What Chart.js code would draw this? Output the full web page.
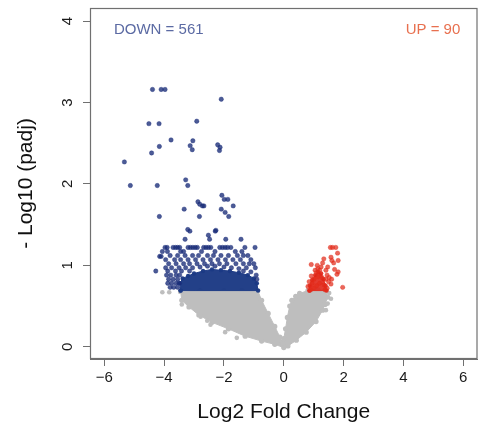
<!DOCTYPE html>
<html>
<head>
<meta charset="utf-8">
<script src="https://cdn.jsdelivr.net/npm/chart.js@4/dist/chart.umd.min.js"></script>
<style>
  body { margin:0; background:#fff; }
  #wrap { width:482px; height:426px; }
</style>
</head>
<body>
<div id="wrap"><canvas id="miVolcano" width="482" height="426"></canvas></div>
<script>

// ticks
var xTicks = [-6, -4, -2, 0, 2, 4, 6];
var yTicks = [0, 1, 2, 3, 4];

// gray cloud (not significant), outline
var grisContorno = [
  [-3.45,0.68],[-2.8,0.69],[-2.0,0.69],[-1.4,0.69],[-0.87,0.69],[-0.74,0.57],[-0.52,0.41],[-0.30,0.25],
  [-0.13,0.12],[-0.04,0.05],[0.0,0.10],[0.06,0.22],[0.12,0.36],[0.20,0.50],[0.27,0.57],[0.40,0.62],
  [0.53,0.655],[0.81,0.69],[1.14,0.70],[1.41,0.69],[1.47,0.61],[1.38,0.52],[1.30,0.45],[1.08,0.31],
  [0.75,0.18],[0.42,0.08],[0.14,0.01],[0.0,-0.01],[-0.30,0.03],[-0.74,0.07],[-1.29,0.13],[-1.85,0.22],
  [-2.40,0.30],[-2.84,0.39],[-3.17,0.49],[-3.41,0.57],[-3.45,0.68]
];
var grisSueltos = [
  [-4.06,0.67],[-3.83,0.67],[-3.41,0.52],[-2.78,0.37],[-2.56,0.32],[-2.45,0.27],[-1.96,0.18],[-1.57,0.11],
  [1.52,0.66],[1.58,0.59],[1.47,0.53],[1.41,0.45]
];

// DOWN genes
var azulNucleo = [
  [-3.45,0.69],[-3.47,0.78],[-3.38,0.84],[-3.20,0.87],[-3.00,0.90],[-2.70,0.93],[-2.40,0.95],[-2.10,0.94],
  [-1.80,0.93],[-1.50,0.91],[-1.20,0.88],[-1.00,0.84],[-0.90,0.78],[-0.86,0.69],[-3.45,0.69]
];
var azulPuntos = [
  [-4.39,3.16],[-4.10,3.16],[-3.97,3.16],[-2.09,3.04],[-2.91,2.77],[-4.51,2.74],[-4.17,2.74],[-3.77,2.54],
  [-3.04,2.53],[-3.13,2.47],[-3.06,2.42],[-4.16,2.46],[-4.42,2.38],[-2.21,2.48],[-2.13,2.45],[-2.15,2.41],
  [-5.33,2.27],[-5.13,1.98],[-4.23,1.98],[-3.28,2.05],[-3.21,1.98],[-2.07,1.86],[-1.99,1.81],[-1.87,1.81],
  [-2.87,1.78],[-2.81,1.75],[-2.67,1.73],[-2.72,1.73],[-1.69,1.73],[-3.33,1.69],[-2.09,1.69],[-1.96,1.65],
  [-2.82,1.60],[-4.16,1.60],[-1.84,1.60],[-3.21,1.44],[-3.14,1.42],[-2.29,1.42],[-2.27,1.43],[-2.52,1.37],
  [-3.30,1.32],[-2.48,1.32],[-1.94,1.32],[-1.43,1.32],
  [-3.97,1.22],[-3.90,1.22],[-3.70,1.22],[-3.62,1.22],[-3.55,1.22],[-3.48,1.22],[-3.20,1.22],[-3.12,1.22],
  [-3.04,1.22],[-2.96,1.22],[-2.89,1.22],[-2.68,1.22],[-2.60,1.22],[-2.52,1.22],[-2.44,1.22],[-2.14,1.22],
  [-2.05,1.22],[-1.96,1.22],[-1.88,1.22],[-1.77,1.22],[-1.30,1.22],[-0.96,1.22],
  [-4.06,1.17],[-3.89,1.17],[-3.45,1.17],[-3.35,1.17],[-2.75,1.17],[-2.30,1.17],[-1.62,1.17],[-1.40,1.17],
  [-4.15,1.11],[-4.10,1.11],[-3.80,1.12],[-3.55,1.12],[-3.30,1.12],[-3.05,1.12],[-2.85,1.12],[-2.55,1.12],
  [-2.35,1.12],[-2.10,1.12],[-1.85,1.12],[-1.55,1.12],[-1.35,1.12],[-1.20,1.12],
  [-3.95,1.07],[-3.65,1.07],[-3.45,1.07],[-3.20,1.07],[-2.95,1.07],[-2.70,1.07],[-2.45,1.07],[-2.20,1.07],
  [-1.95,1.07],[-1.70,1.07],[-1.45,1.07],[-1.10,1.07],
  [-3.85,1.02],[-3.60,1.02],[-3.35,1.02],[-3.15,1.02],[-2.90,1.02],[-2.65,1.02],[-2.40,1.02],[-2.15,1.02],
  [-1.90,1.02],[-1.60,1.02],[-1.35,1.02],[-1.15,1.02],[-1.00,1.02],
  [-3.95,0.97],[-3.75,0.97],[-3.50,0.97],[-3.28,0.97],[-3.05,0.97],[-2.80,0.98],[-2.55,0.99],[-2.30,0.99],
  [-2.00,0.98],[-1.75,0.97],[-1.50,0.96],[-1.25,0.97],[-0.95,0.97],
  [-4.28,0.93],[-3.88,0.93],[-3.62,0.93],[-3.42,0.93],[-3.15,0.93],[-1.35,0.93],[-1.10,0.92],
  [-3.92,0.88],[-3.78,0.88],[-3.60,0.88],[-3.48,0.88],[-0.92,0.88],
  [-3.85,0.83],[-3.70,0.83],[-3.55,0.83],[-0.90,0.83],
  [-3.88,0.78],[-3.75,0.78],[-3.60,0.78],[-3.50,0.78],
  [-3.80,0.73],[-3.68,0.73],[-3.55,0.73]
];

// UP genes
var rojoNucleo = [
  [0.86,0.69],[0.87,0.75],[0.95,0.82],[1.05,0.88],[1.15,0.92],[1.25,0.90],[1.33,0.83],[1.40,0.75],[1.43,0.69],[0.86,0.69]
];
var rojoPuntos = [
  [1.56,1.22],[1.63,1.22],[1.74,1.22],[1.80,1.15],[1.58,1.10],[1.34,1.08],[1.61,1.06],[1.82,1.06],
  [1.30,1.03],[1.67,1.03],[0.92,1.01],[1.25,0.98],[1.47,0.98],[1.14,0.96],[1.20,0.94],[1.41,0.94],
  [1.82,0.92],[1.78,0.89],[1.09,0.91],[0.92,0.87],[1.01,0.83],[1.41,0.83],[1.52,0.85],[1.58,0.77],
  [1.97,0.73],[0.81,0.74],[1.45,0.72],[1.35,0.76],[1.00,0.72],[1.10,0.75],[1.20,0.78],[1.28,0.85],
  [1.15,0.86],[0.95,0.78],[0.90,0.70],[1.38,0.70],[1.05,0.94],[1.12,1.00],[1.45,0.88],[1.50,0.80],
  [1.60,0.83],[1.70,0.95],[0.85,0.80]
];

// labels in the corners
var etiquetas = ['DOWN = 561', 'UP = 90'];
var etiquetasX = [-4.18, 4.99];
var etiquetasY = [3.89, 3.89];
var etiquetasColor = ['#5b6aa3', '#e8704f'];

function $each(arr, fn){ for (var i = 0; i < arr.length; i++) fn(arr[i], i); }
function aPuntos(lista){
  var salida = new Array();
  $each(lista, function(p){ salida.push({x: p[0], y: p[1]}); });
  return salida;
}

var fuente = 'Liberation Sans, Arial, Helvetica, sans-serif';

var cajaPlugin = {
  id: 'caja',
  afterDraw: function(chart){
    var c = chart.ctx, a = chart.chartArea;
    c.save();
    c.strokeStyle = '#707070';
    c.lineWidth = 1.2;
    c.strokeRect(a.left + 0.5, a.top + 0.5, a.right - a.left - 1, a.bottom - a.top - 1);
    c.restore();
  },
  afterDatasetsDraw: function(chart){
    var c = chart.ctx;
    c.save();
    c.font = '15px ' + fuente;
    c.textAlign = 'center';
    c.textBaseline = 'middle';
    $each(etiquetas, function(t, i){
      c.fillStyle = etiquetasColor[i];
      c.fillText(t, chart.scales.x.getPixelForValue(etiquetasX[i]), chart.scales.y.getPixelForValue(etiquetasY[i]));
    });
    c.restore();
  }
};

var gris = '#bebebe';
var azul = 'rgba(25,45,120,0.78)';
var azulOscuro = 'rgba(28,58,132,0.97)';
var rojo = 'rgba(226,45,28,0.72)';
var rojoOscuro = 'rgba(225,38,24,0.9)';

let miCanvas = document.getElementById('miVolcano').getContext('2d');

var volcano = new Chart(miCanvas, {
  type: 'scatter',
  data: {
    datasets: [
      { data: aPuntos(grisContorno), showLine: true, fill: 'shape', backgroundColor: gris, borderColor: gris,
        borderWidth: 1, pointRadius: 2.6, pointBackgroundColor: gris, pointBorderWidth: 0, order: 6 },
      { data: aPuntos(grisSueltos), backgroundColor: gris, pointRadius: 2.3, pointBorderWidth: 0, order: 5 },
      { data: aPuntos(azulNucleo), showLine: true, fill: 'shape', backgroundColor: azulOscuro,
        borderColor: azulOscuro, borderWidth: 1, pointRadius: 2.2, pointBackgroundColor: azulOscuro,
        pointBorderWidth: 0, order: 4 },
      { data: aPuntos(azulPuntos), backgroundColor: azul, borderColor: azul, pointRadius: 2.2, pointBorderWidth: 0.5, order: 3 },
      { data: aPuntos(rojoNucleo), showLine: true, fill: 'shape', backgroundColor: rojoOscuro,
        borderColor: rojoOscuro, borderWidth: 1, pointRadius: 2.2, pointBackgroundColor: rojoOscuro,
        pointBorderWidth: 0, order: 2 },
      { data: aPuntos(rojoPuntos), backgroundColor: rojo, borderColor: rojo, pointRadius: 2.2, pointBorderWidth: 0.5, order: 1 }
    ]
  },
  options: {
    responsive: false,
    animation: false,
    layout: { padding: { top: 8, right: 1, left: 0, bottom: 0 } },
    plugins: { legend: { display: false }, tooltip: { enabled: false } },
    scales: {
      x: {
        type: 'linear', min: -6.48, max: 6.48,
        afterBuildTicks: function(s){ s.ticks = xTicks.map(function(v){ return {value: v}; }); },
        afterFit: function(s){ s.height = 67; s.paddingLeft = 0; s.paddingRight = 0; },
        grid: { drawOnChartArea: false, drawTicks: true, tickLength: 7, color: '#707070' },
        border: { display: true, color: '#707070' },
        ticks: { padding: 3, color: '#1a1a1a', font: { family: fuente, size: 15 }, maxRotation: 0,
          callback: function(v){ return v < 0 ? '\u2212' + Math.abs(v) : '' + v; } },
        title: { display: true, text: 'Log2 Fold Change', color: '#111', font: { family: fuente, size: 21 },
          padding: { top: 0, bottom: 1 } }
      },
      y: {
        type: 'linear', min: -0.15, max: 4.16,
        afterBuildTicks: function(s){ s.ticks = yTicks.map(function(v){ return {value: v}; }); },
        afterFit: function(s){ s.width = 90; s.paddingTop = 0; s.paddingBottom = 0; },
        grid: { drawOnChartArea: false, drawTicks: true, tickLength: 7, color: '#707070' },
        border: { display: true, color: '#707070' },
        ticks: { padding: 11, crossAlign: 'center', minRotation: 90, maxRotation: 90, color: '#1a1a1a',
          font: { family: fuente, size: 15 } },
        title: { display: true, text: '- Log10 (padj)', color: '#111', font: { family: fuente, size: 21 },
          padding: { top: 14, bottom: 0 } }
      }
    }
  },
  plugins: [cajaPlugin]
});

</script>
</body>
</html>
